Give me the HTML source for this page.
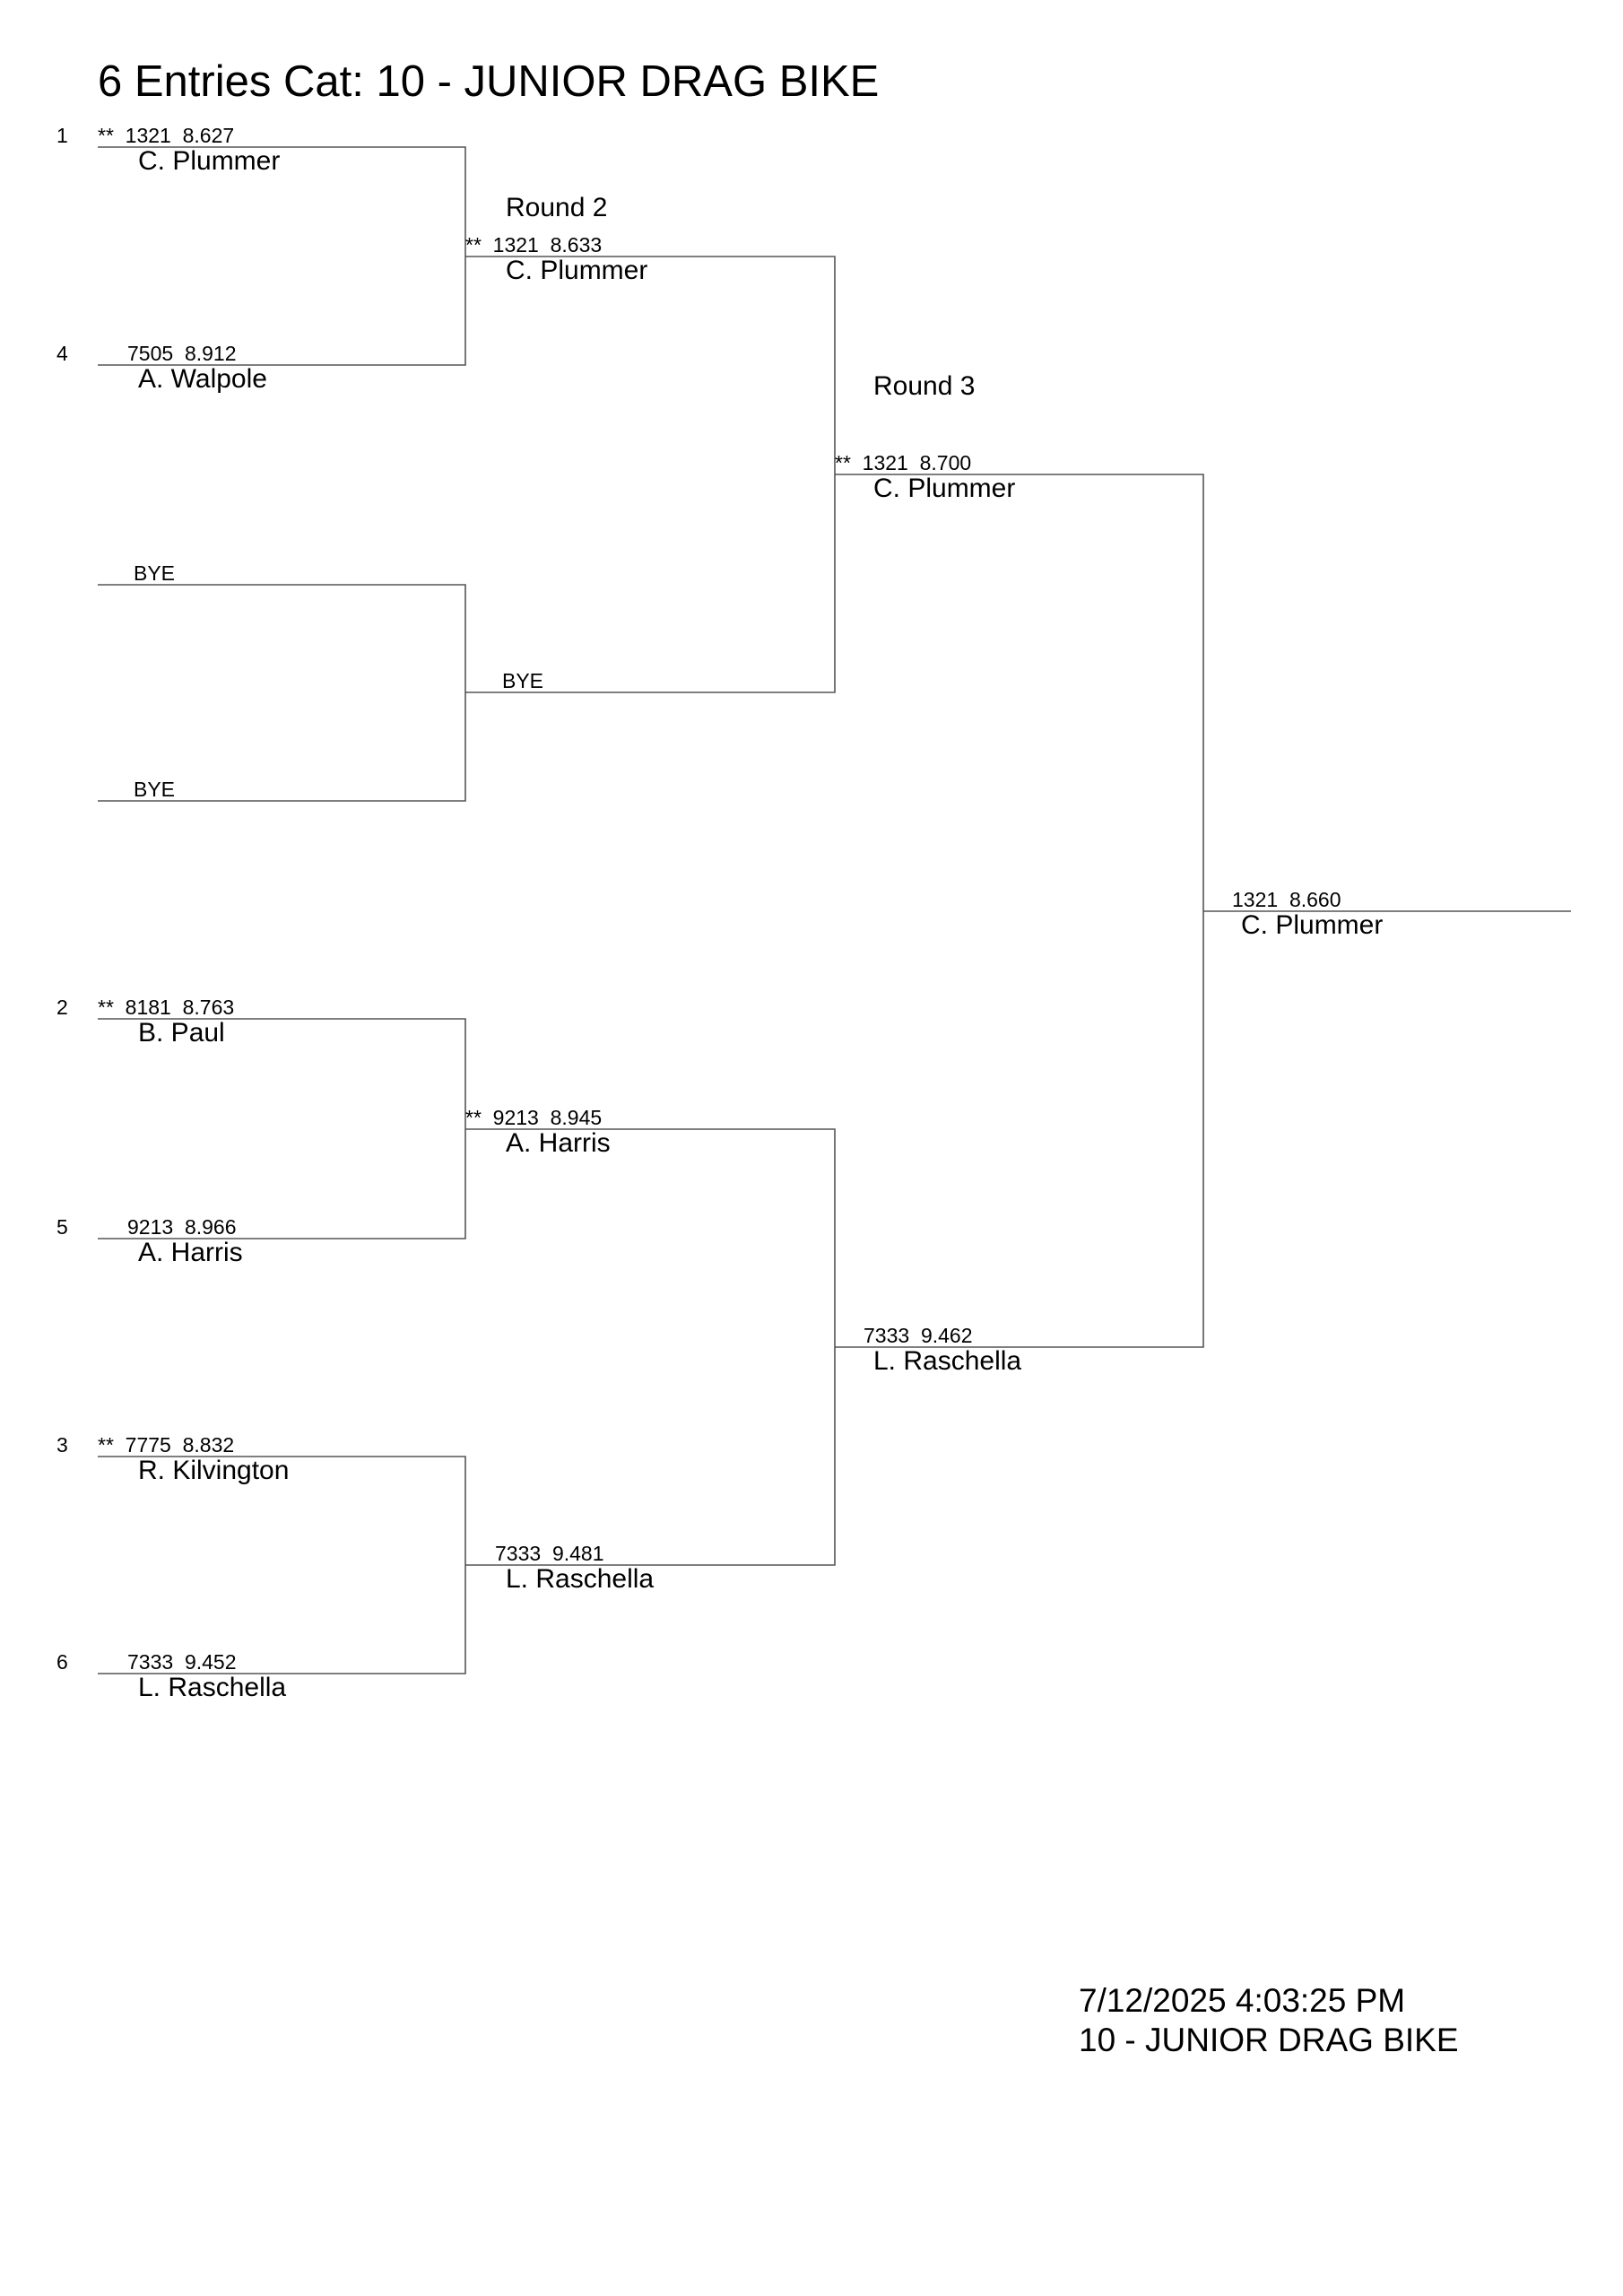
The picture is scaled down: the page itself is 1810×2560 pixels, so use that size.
<!DOCTYPE html>
<html><head><meta charset="utf-8"><style>
html,body{margin:0;padding:0;background:#fff}
svg{display:block}
text{font-family:"Liberation Sans",Arial,sans-serif;fill:#000;white-space:pre}
.s{font-size:23px}
.n{font-size:30px}
</style></head><body>
<svg width="1810" height="2560" viewBox="0 0 1810 2560" xmlns="http://www.w3.org/2000/svg">
<text x="109" y="107" style="font-size:49px">6 Entries Cat: 10 - JUNIOR DRAG BIKE</text>
<g stroke="#555" stroke-width="1.6" fill="none">
<path d="M109 164H519V407H109"/>
<path d="M109 652H519V893H109"/>
<path d="M109 1136H519V1381H109"/>
<path d="M109 1624H519V1866H109"/>
<path d="M519 286H931V772H519"/>
<path d="M519 1259H931V1745H519"/>
<path d="M931 529H1342V1502H931"/>
<path d="M1342 1016H1752"/>
</g>
<text class="s" x="63" y="159">1</text>
<text class="s" x="63" y="402">4</text>
<text class="s" x="63" y="1131">2</text>
<text class="s" x="63" y="1376">5</text>
<text class="s" x="63" y="1619">3</text>
<text class="s" x="63" y="1861">6</text>
<text class="s" x="109" y="159">**  1321  8.627</text><text class="n" x="154" y="189">C. Plummer</text>
<text class="s" x="142" y="402">7505  8.912</text><text class="n" x="154" y="432">A. Walpole</text>
<text class="s" x="149" y="647">BYE</text>
<text class="s" x="149" y="888">BYE</text>
<text class="s" x="109" y="1131">**  8181  8.763</text><text class="n" x="154" y="1161">B. Paul</text>
<text class="s" x="142" y="1376">9213  8.966</text><text class="n" x="154" y="1406">A. Harris</text>
<text class="s" x="109" y="1619">**  7775  8.832</text><text class="n" x="154" y="1649">R. Kilvington</text>
<text class="s" x="142" y="1861">7333  9.452</text><text class="n" x="154" y="1891">L. Raschella</text>
<text class="n" x="564" y="241">Round 2</text>
<text class="s" x="519" y="281">**  1321  8.633</text><text class="n" x="564" y="311">C. Plummer</text>
<text class="s" x="560" y="767">BYE</text>
<text class="s" x="519" y="1254">**  9213  8.945</text><text class="n" x="564" y="1284">A. Harris</text>
<text class="s" x="552" y="1740">7333  9.481</text><text class="n" x="564" y="1770">L. Raschella</text>
<text class="n" x="974" y="440">Round 3</text>
<text class="s" x="931" y="524">**  1321  8.700</text><text class="n" x="974" y="554">C. Plummer</text>
<text class="s" x="963" y="1497">7333  9.462</text><text class="n" x="974" y="1527">L. Raschella</text>
<text class="s" x="1374" y="1011">1321  8.660</text><text class="n" x="1384" y="1041">C. Plummer</text>
<text x="1203" y="2243" style="font-size:37px">7/12/2025 4:03:25 PM</text>
<text x="1203" y="2287" style="font-size:37px">10 - JUNIOR DRAG BIKE</text>
</svg>
</body></html>
